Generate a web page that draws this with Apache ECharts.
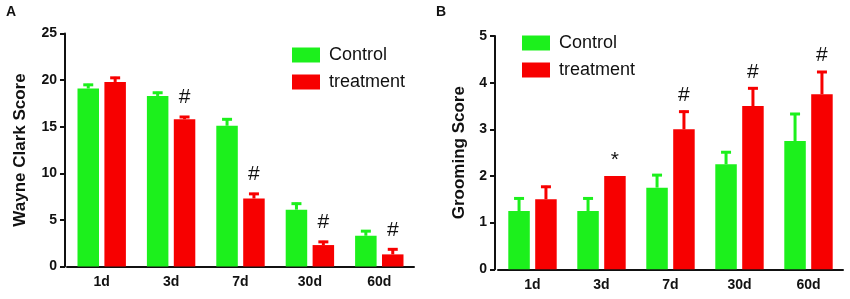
<!DOCTYPE html>
<html>
<head>
<meta charset="utf-8">
<script src="https://cdn.jsdelivr.net/npm/echarts@6/dist/echarts.min.js"></script>
<style>
  html, body { margin: 0; padding: 0; background: #fff; }
  #chart { width: 850px; height: 299px; }
</style>
</head>
<body>
<div id="chart"></div>
<script>
// categories
var days = ['1d', '3d', '7d', '30d', '60d'];

// panel A: Wayne Clark score (mean, upper error)
var wcControl = [19.1, 18.3, 15.1, 6.1, 3.3];
var wcControlErr = [0.5, 0.45, 0.8, 0.75, 0.6];
var wcTreat = [19.8, 15.8, 7.3, 2.3, 1.3];
var wcTreatErr = [0.55, 0.35, 0.6, 0.45, 0.65];
var wcMarks = ['', '#', '#', '#', '#'];

// panel B: grooming score
var grControl = [1.25, 1.25, 1.75, 2.25, 2.75];
var grControlErr = [0.29, 0.29, 0.29, 0.28, 0.6];
var grTreat = [1.5, 2.0, 3.0, 3.5, 3.75];
var grTreatErr = [0.29, 0, 0.4, 0.4, 0.5];
var grMarks = ['', '*', '#', '#', '#'];

var GREEN = '#1cf01c';
var RED = '#f70000';
var BAR_W = 21.5;
var BAR_GAP = 5.4;
var FONT = '"Liberation Sans", Arial, sans-serif';

// upper error bar with cap, plus the significance mark above it
function errSeries(axis, means, errs, marks, side, color, markGap) {
  var off = side * (BAR_W + BAR_GAP) / 2;
  return {
    type: 'custom',
    xAxisIndex: axis,
    yAxisIndex: axis,
    silent: true,
    z: 3,
    data: means.map(function (m, i) { return [i, m, errs[i]]; }),
    renderItem: function (params, api) {
      var i = api.value(0), m = api.value(1), e = api.value(2);
      var base = api.coord([i, m]);
      var top = api.coord([i, m + e]);
      var x = base[0] + off;
      var kids = [];
      if (e > 0) {
        kids.push({
          type: 'line',
          shape: { x1: x, y1: base[1], x2: x, y2: top[1] },
          style: { stroke: color, lineWidth: 3 }
        });
        kids.push({
          type: 'line',
          shape: { x1: x - 5, y1: top[1] + 1, x2: x + 5, y2: top[1] + 1 },
          style: { stroke: color, lineWidth: 3 }
        });
      }
      var mk = marks ? marks[params.dataIndex] : '';
      if (mk) {
        kids.push({
          type: 'text',
          style: {
            x: x, y: top[1] - markGap, text: mk,
            fill: '#111', font: '21px ' + FONT,
            align: 'center', verticalAlign: 'bottom'
          }
        });
      }
      return { type: 'group', children: kids };
    }
  };
}

function barSeries(axis, name, data, color) {
  return {
    name: name,
    type: 'bar',
    xAxisIndex: axis,
    yAxisIndex: axis,
    data: data,
    barWidth: BAR_W,
    barGap: (BAR_GAP / BAR_W * 100) + '%',
    itemStyle: { color: color },
    silent: true
  };
}

function xAx(grid) {
  return {
    type: 'category',
    gridIndex: grid,
    data: days,
    axisLine: { lineStyle: { color: '#111', width: 2 } },
    axisTick: { alignWithLabel: true, length: 5, lineStyle: { color: '#111', width: 2 } },
    axisLabel: { color: '#111', fontWeight: 'bold', fontSize: 14, fontFamily: FONT, margin: 9 }
  };
}

function yAx(grid, max, step, name, off, gap) {
  return {
    type: 'value',
    gridIndex: grid,
    min: 0, max: max, interval: step,
    offset: off,
    name: name,
    nameLocation: 'middle',
    nameGap: gap,
    nameTextStyle: { color: '#111', fontWeight: 'bold', fontSize: 17, fontFamily: FONT },
    splitLine: { show: false },
    axisLine: { show: true, lineStyle: { color: '#111', width: 2 } },
    axisTick: { show: true, length: 5, lineStyle: { color: '#111', width: 2 } },
    axisLabel: { color: '#111', fontWeight: 'bold', fontSize: 14, fontFamily: FONT, margin: 8 }
  };
}

function legendAt(left, top) {
  return {
    data: ['Control', 'treatment'],
    orient: 'vertical',
    left: left, top: top,
    icon: 'rect',
    itemWidth: 28, itemHeight: 15,
    itemGap: 9,
    selectedMode: false,
    textStyle: { color: '#111', fontSize: 18, fontFamily: FONT, padding: [0, 0, 0, 4] }
  };
}

var option = {
  animation: false,
  backgroundColor: '#fff',
  grid: [
    { left: 67, top: 33.5, width: 347, height: 233 },
    { left: 498, top: 36, width: 345, height: 233.3 }
  ],
  legend: [legendAt(287, 41), legendAt(517, 29)],
  xAxis: [xAx(0), xAx(1)],
  yAxis: [yAx(0, 25, 5, 'Wayne Clark Score', 2, 36), yAx(1, 5, 1, 'Grooming Score', 3, 27)],
  graphic: [
    { type: 'text', left: 6, top: 5, style: { text: 'A', font: 'bold 14px ' + FONT, fill: '#111' } },
    { type: 'text', left: 436, top: 5, style: { text: 'B', font: 'bold 14px ' + FONT, fill: '#111' } }
  ],
  series: [
    barSeries(0, 'Control', wcControl, GREEN),
    barSeries(0, 'treatment', wcTreat, RED),
    errSeries(0, wcControl, wcControlErr, null, -1, GREEN, 8),
    errSeries(0, wcTreat, wcTreatErr, wcMarks, 1, RED, 8),
    barSeries(1, 'Control', grControl, GREEN),
    barSeries(1, 'treatment', grTreat, RED),
    errSeries(1, grControl, grControlErr, null, -1, GREEN, 5),
    errSeries(1, grTreat, grTreatErr, grMarks, 1, RED, 5)
  ]
};

var myChart = echarts.init(document.getElementById('chart'));
myChart.setOption(option);
</script>
</body>
</html>
